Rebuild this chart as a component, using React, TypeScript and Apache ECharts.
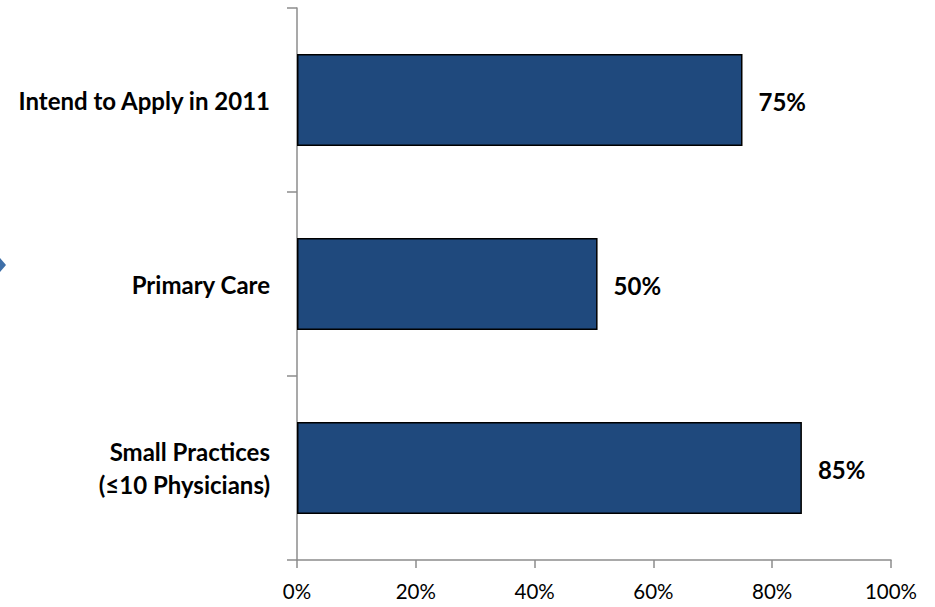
import React, { useEffect, useRef } from "react";
import * as echarts from "echarts";

const categories = ["Intend to Apply in 2011", "Primary Care", "Small Practices\n(≤10 Physicians)"];
const values = [75, 50.6, 85];
const valueLabels = ["75%", "50%", "85%"];
const xTicks = [0, 20, 40, 60, 80, 100];

export default function App() {
  const ref = useRef<HTMLDivElement>(null);
  useEffect(() => {
    if (!ref.current) return;
    const chart = echarts.init(ref.current, undefined, { renderer: "svg" });
    const font = "Lato, 'Open Sans', 'DejaVu Sans', sans-serif";
    chart.setOption({
      animation: false,
      textStyle: { fontFamily: font },
      grid: { left: 297, right: 44, top: 8, bottom: 47, containLabel: false },
      xAxis: {
        type: "value",
        min: xTicks[0],
        max: xTicks[xTicks.length - 1],
        interval: 20,
        axisLine: { show: true, lineStyle: { color: "#8c8c8c", width: 1.5 } },
        axisTick: { show: true, length: 8, lineStyle: { color: "#8c8c8c", width: 1.5 } },
        splitLine: { show: false },
        axisLabel: {
          formatter: "{value}%",
          color: "#000",
          fontSize: 20.5,
          fontFamily: font,
          margin: 20,
        },
      },
      yAxis: {
        type: "category",
        inverse: true,
        data: categories,
        axisLine: { show: true, lineStyle: { color: "#8c8c8c", width: 1.5 } },
        axisTick: { show: true, length: 10, lineStyle: { color: "#8c8c8c", width: 1.5 } },
        axisLabel: {
          color: "#000",
          fontSize: 24,
          fontWeight: "bold",
          fontFamily: font,
          margin: 27,
          align: "right",
          lineHeight: 33,
        },
      },
      series: [
        {
          type: "bar",
          data: values.map((v, i) => ({
            value: v,
            label: { formatter: valueLabels[i] },
          })),
          barWidth: "50%",
          itemStyle: { color: "#1F497D", borderColor: "#000", borderWidth: 1.5 },
          label: {
            show: true,
            position: "right",
            distance: 16,
            offset: [0, 1],
            color: "#000",
            fontSize: 24,
            fontWeight: "bold",
            fontFamily: font,
          },
        },
      ],
      graphic: [
        {
          type: "polygon",
          shape: { points: [[0, 258], [6, 265], [0, 272]] },
          style: { fill: "#3E6FA8" },
        },
      ],
    });
    return () => chart.dispose();
  }, []);
  return <div ref={ref} style={{ width: 935, height: 607, position: "absolute", left: 0, top: 0 }} />;
}
